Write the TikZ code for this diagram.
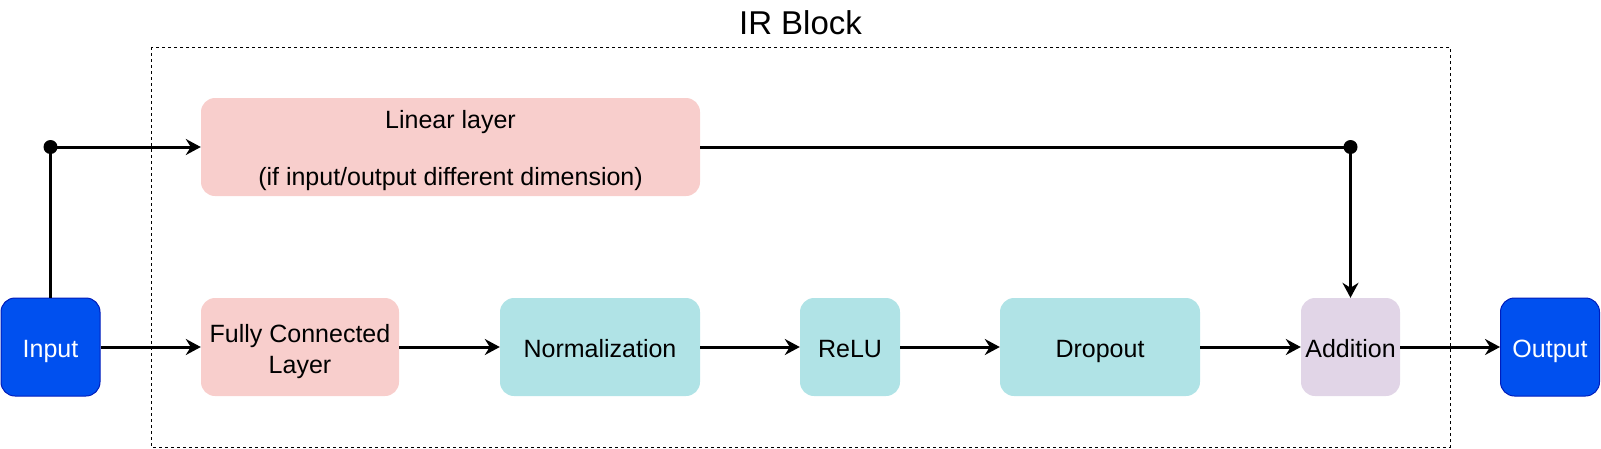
\documentclass[tikz,border=0pt]{standalone}
\usepackage{fontspec}
\setmainfont{Liberation Sans}
\usetikzlibrary{arrows.meta}
\definecolor{inblue}{HTML}{0050EF}
\definecolor{inblueline}{HTML}{001DBC}
\definecolor{pinkfill}{HTML}{F8CECC}
\definecolor{tealfill}{HTML}{B0E3E6}
\definecolor{purplefill}{HTML}{E1D5E7}
\tikzset{
  blk/.style={rounded corners=14pt, inner sep=0pt, align=center, font=\fontsize{25}{31}\selectfont, minimum height=98pt},
  oneline/.style={text height=22pt, text depth=1.6pt},
  iobox/.style={blk, oneline, fill=inblue, draw=inblueline, line width=1pt, text=white, minimum width=99pt},
  pinkbox/.style={blk, fill=pinkfill},
  tealbox/.style={blk, oneline, fill=tealfill},
  purplebox/.style={blk, oneline, fill=purplefill},
  conn/.style={line width=3pt, -{Stealth[length=15pt,width=16pt,inset=5pt]}},
  plainconn/.style={line width=3pt},
  junction/.style={circle, fill=black, inner sep=0pt, minimum size=14pt},
  groupbox/.style={draw, dashed, line width=1pt, dash pattern=on 3pt off 3pt},
}
\begin{document}
\begin{tikzpicture}[x=1pt,y=-1pt]
\useasboundingbox (0,0) rectangle (1601,448);
\draw[groupbox] (151,47) rectangle (1450,447);
\node[font=\fontsize{33}{38}\selectfont] (title) at (800.5,22.5) {IR Block};
\node[iobox] (in) at (50.5,347) {Input};
\node[pinkbox, minimum width=198pt] (fc) at (300,347) {\rule{0pt}{27.6pt}Fully Connected\\Layer\rule[-6pt]{0pt}{6pt}};
\node[tealbox, minimum width=200pt] (norm) at (600,347) {Normalization};
\node[tealbox, minimum width=100pt] (relu) at (850,347) {ReLU};
\node[tealbox, minimum width=200pt] (drop) at (1100,347) {Dropout};
\node[purplebox, minimum width=99pt] (add) at (1350.5,347) {Addition};
\node[iobox] (out) at (1550,347) {Output};
\node[pinkbox, minimum width=499pt] (lin) at (450.5,147) {\rule{0pt}{26.2pt}Linear layer\\[26pt](if input/output different dimension)\rule[-6pt]{0pt}{6pt}};
\node[junction] (dot1) at (in.north |- lin.west) {};
\node[junction] (dot2) at (add.north |- lin.east) {};
\draw[plainconn] (in.north) -- (dot1.center);
\draw[conn] (dot1.center) -- (lin.west);
\draw[plainconn] (lin.east) -- (dot2.center);
\draw[conn] (dot2.center) -- (add.north);
\draw[conn] (in.east) -- (fc.west);
\draw[conn] (fc.east) -- (norm.west);
\draw[conn] (norm.east) -- (relu.west);
\draw[conn] (relu.east) -- (drop.west);
\draw[conn] (drop.east) -- (add.west);
\draw[conn] (add.east) -- (out.west);
\end{tikzpicture}
\end{document}
